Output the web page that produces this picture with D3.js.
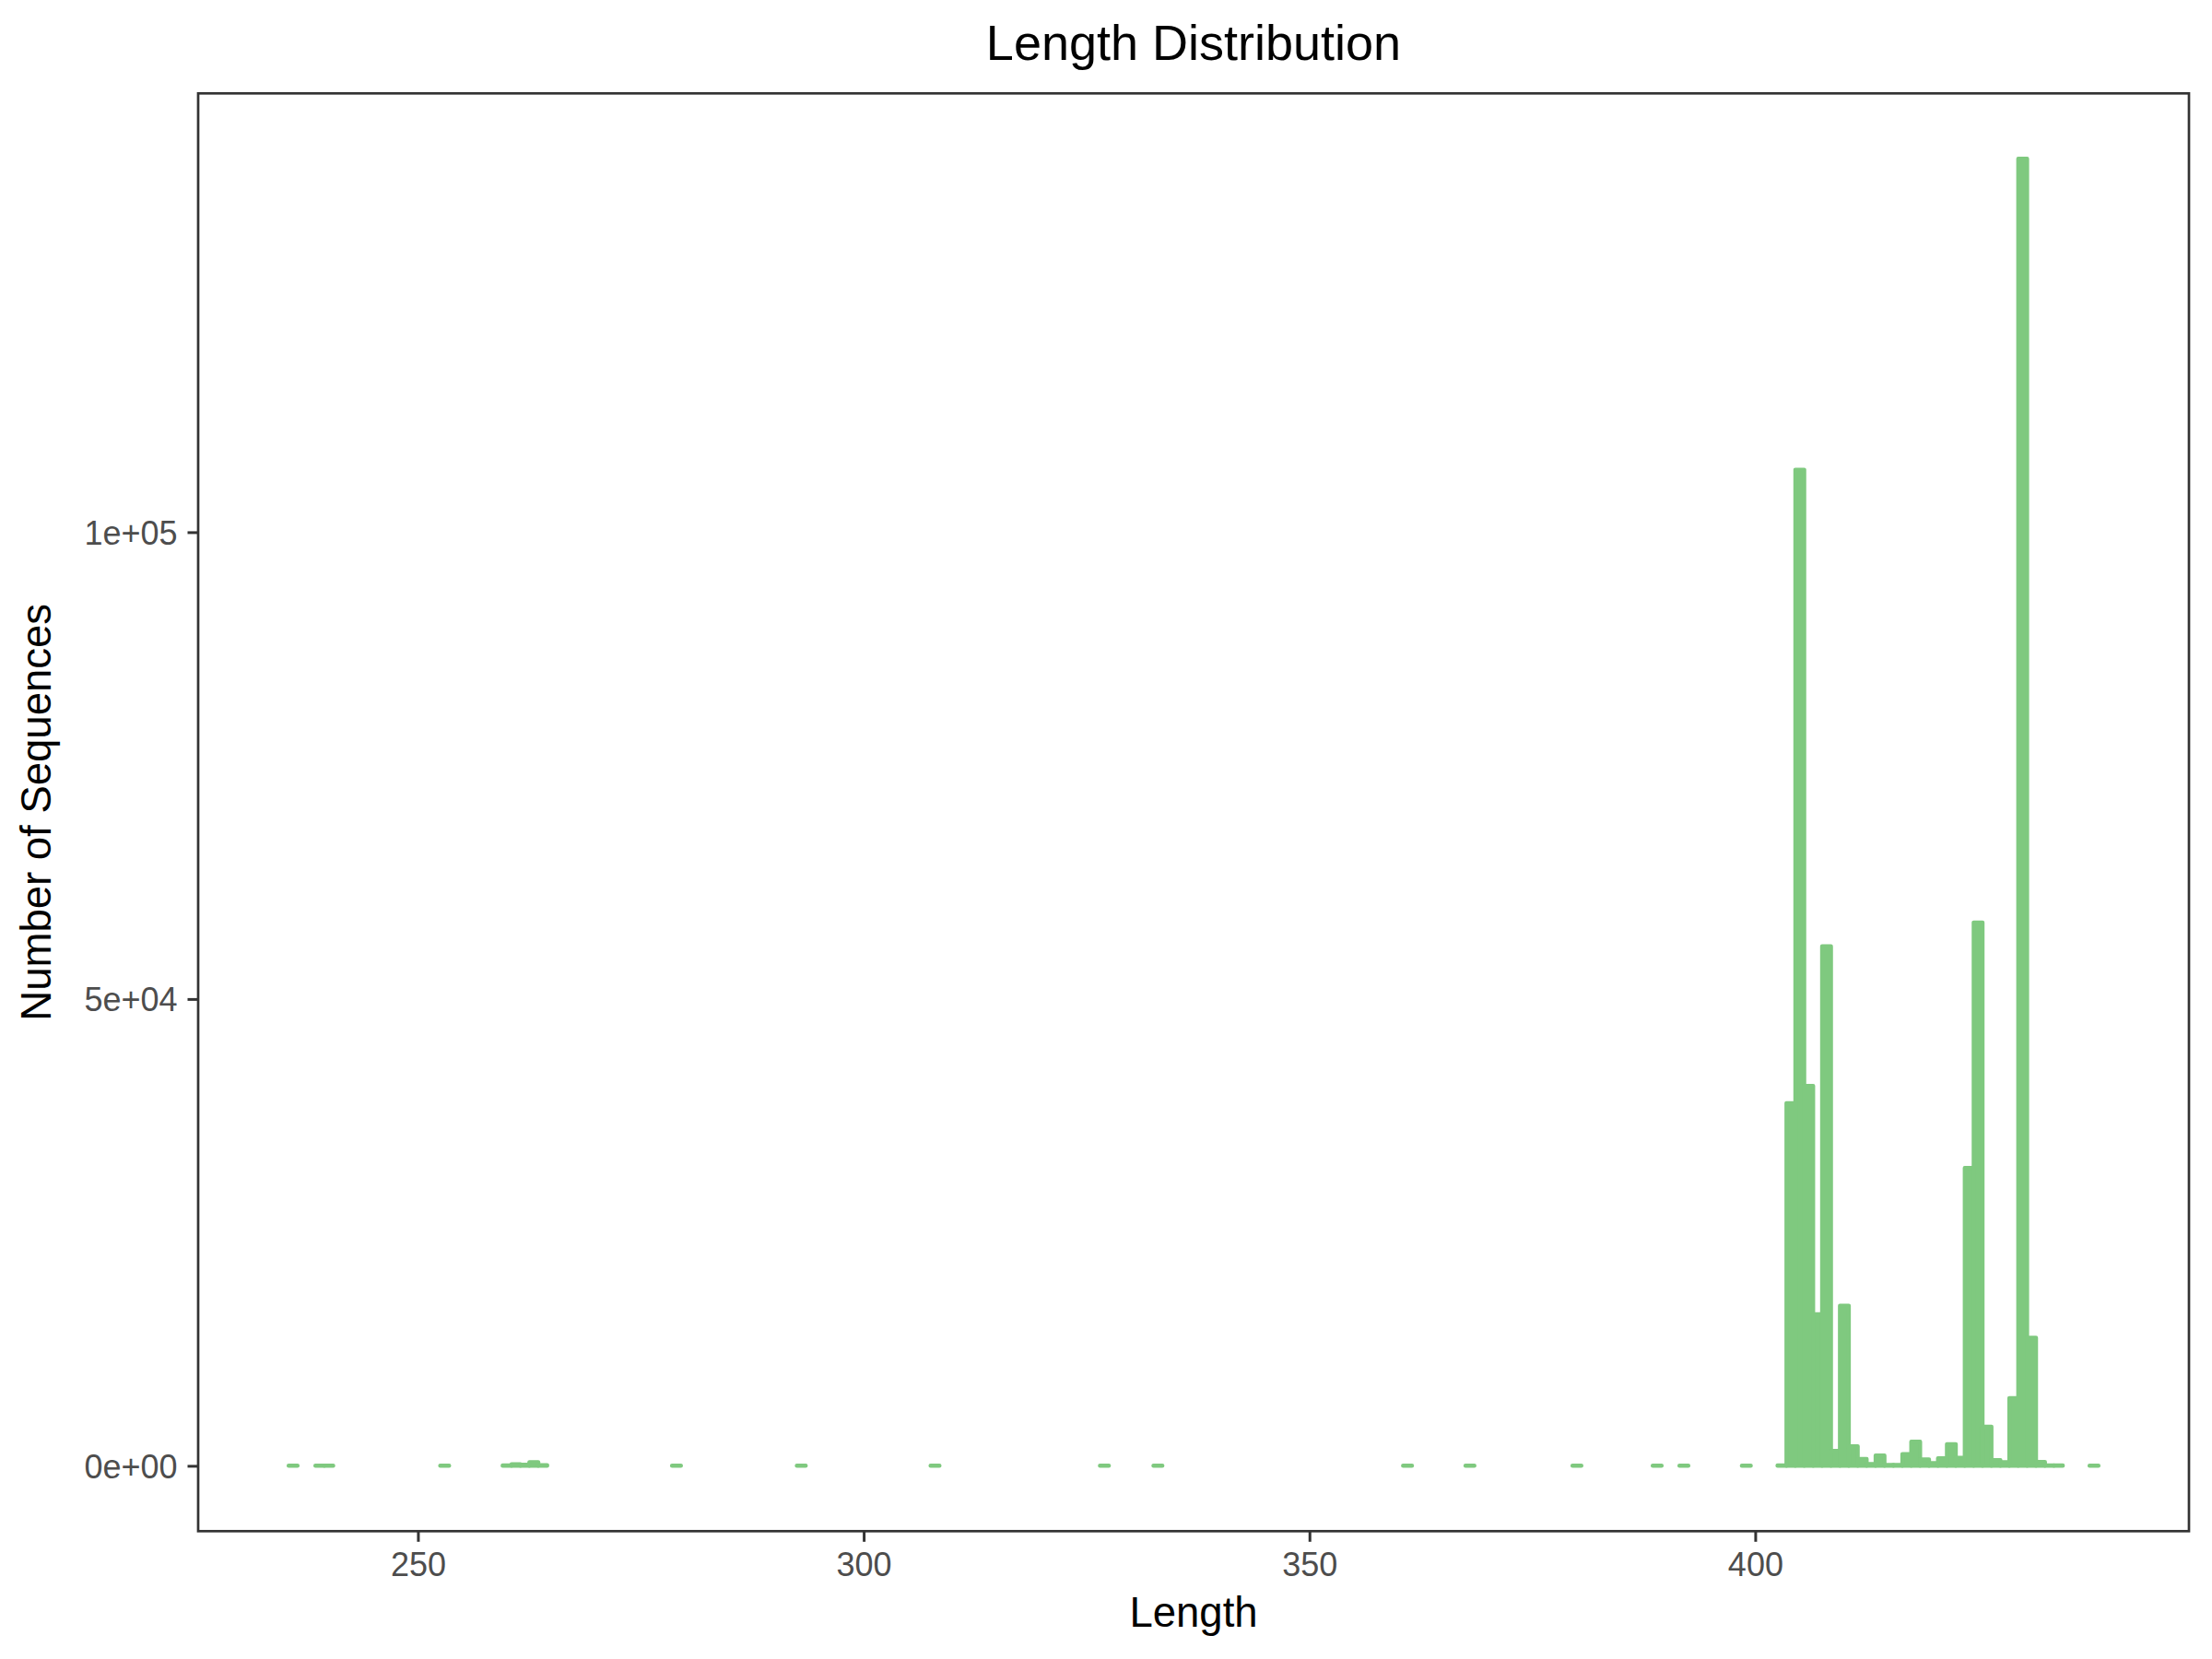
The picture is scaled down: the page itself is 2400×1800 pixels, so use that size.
<!DOCTYPE html>
<html>
<head>
<meta charset="utf-8">
<script src="https://cdn.jsdelivr.net/npm/d3@7/dist/d3.min.js"></script>
<style>
  html, body { margin: 0; padding: 0; background: #ffffff; }
  svg { display: block; font-family: "Liberation Sans", Arial, Helvetica, sans-serif; }
</style>
</head>
<body>
<script>
// ---- data ----
const lengths = [236, 239, 240, 253, 260, 261, 262, 263, 264, 279, 293, 308, 327, 333,
  361, 368, 380, 389, 392, 399, 403,
  404, 405, 406, 407, 408, 409, 410, 411, 412, 413, 414, 415, 416, 417, 418, 419,
  420, 421, 422, 423, 424, 425, 426, 427, 428, 429, 430, 431, 432, 433, 434, 438];
const counts = [30, 30, 30, 30, 50, 170, 120, 400, 80, 30, 30, 30, 30, 30,
  30, 30, 30, 30, 30, 30, 60,
  38850, 106700, 40700, 16250, 55650, 1600, 17150, 2100, 750, 200, 1100, 100, 100, 1250, 2580, 680,
  300, 820, 2330, 860, 31900, 58200, 4200, 620, 390, 7260, 140000, 13710, 420, 60, 60, 30];
const xTickValues = [250, 300, 350, 400];
const yTickValues = [0, 50000, 100000];
const yTickLabels = ["0e+00", "5e+04", "1e+05"];
const titleText = "Length Distribution";
const xTitle = "Length";
const yTitle = "Number of Sequences";

const data = lengths.map((l, i) => ({ len: l, n: counts[i] }));

// ---- layout ----
const W = 2400, H = 1800;
const panel = { left: 215, right: 2375, top: 101.3, bottom: 1661.3 };
const barColor = "#7FC97F";
const binWidth = 1;

const svg = d3.select("body").append("svg").attr("width", W).attr("height", H);
svg.append("rect").attr("width", W).attr("height", H).attr("fill", "#ffffff");

// scales with ggplot-like 5% expansion
const xMin = d3.min(lengths) - binWidth / 2, xMax = d3.max(lengths) + binWidth / 2;
const xPad = (xMax - xMin) * 0.05;
const x = d3.scaleLinear().domain([xMin - xPad, xMax + xPad]).range([panel.left, panel.right]);
const yMaxV = d3.max(counts);
const y = d3.scaleLinear().domain([-0.05 * yMaxV, 1.05 * yMaxV]).range([panel.bottom, panel.top]);

// bars
svg.append("g").selectAll("rect").data(data).join("rect")
  .attr("x", d => x(d.len - binWidth / 2))
  .attr("width", d => x(d.len + binWidth / 2) - x(d.len - binWidth / 2))
  .attr("y", d => y(d.n))
  .attr("height", d => Math.max(0.05, y(0) - y(d.n)))
  .attr("fill", barColor)
  .attr("stroke", barColor)
  .attr("stroke-width", 4.3)
  .attr("stroke-linejoin", "round");

// panel border
svg.append("rect")
  .attr("x", panel.left).attr("y", panel.top)
  .attr("width", panel.right - panel.left).attr("height", panel.bottom - panel.top)
  .attr("fill", "none").attr("stroke", "#333333").attr("stroke-width", 2.7);

// axes
const xAxis = svg.append("g").attr("transform", `translate(0,${panel.bottom})`)
  .call(d3.axisBottom(x).tickValues(xTickValues).tickFormat(d3.format("d")).tickSize(11.5).tickPadding(11.6));
const yAxis = svg.append("g").attr("transform", `translate(${panel.left},0)`)
  .call(d3.axisLeft(y).tickValues(yTickValues).tickFormat((d, i) => yTickLabels[i]).tickSize(11.5).tickPadding(11));
[xAxis, yAxis].forEach(g => {
  g.select(".domain").remove();
  g.selectAll(".tick line").attr("stroke", "#333333").attr("stroke-width", 3);
  g.selectAll(".tick text").attr("fill", "#4D4D4D").style("font-size", "36px")
    .style("font-family", "'Liberation Sans', Arial, Helvetica, sans-serif");
});
yAxis.selectAll(".tick text").attr("dy", "0.36em");

// titles
const cx = (panel.left + panel.right) / 2, cy = (panel.top + panel.bottom) / 2;
svg.append("text").attr("x", cx).attr("y", 65).attr("text-anchor", "middle")
  .attr("fill", "#000").style("font-size", "54px").text(titleText);
svg.append("text").attr("x", cx).attr("y", 1765).attr("text-anchor", "middle")
  .attr("fill", "#000").style("font-size", "45.5px").text(xTitle);
svg.append("text").attr("transform", `translate(55,${cy}) rotate(-90)`).attr("text-anchor", "middle")
  .attr("fill", "#000").style("font-size", "45.5px").text(yTitle);
</script>
</body>
</html>
